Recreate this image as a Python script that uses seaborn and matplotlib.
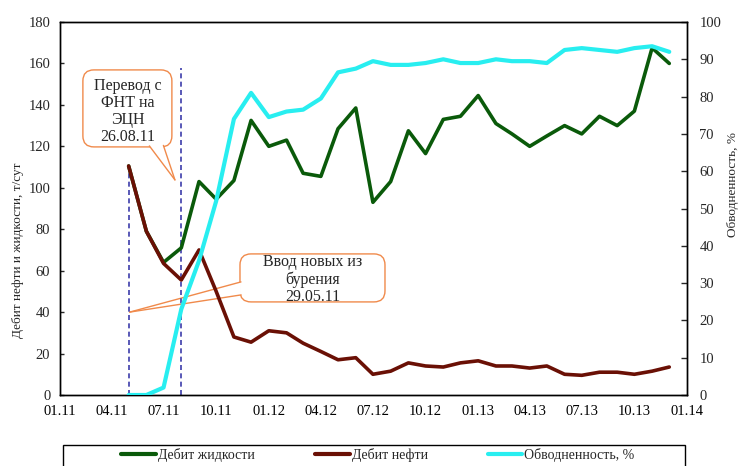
import numpy as np
import pandas as pd
import matplotlib
matplotlib.use("Agg")
import matplotlib.pyplot as plt
import matplotlib.dates as mdates
from matplotlib.patches import FancyBboxPatch, Polygon, Rectangle
from matplotlib.lines import Line2D
import seaborn as sns

# Monthly well data
months = ["05.11", "06.11", "07.11", "08.11", "09.11", "10.11", "11.11", "12.11",
          "01.12", "02.12", "03.12", "04.12", "05.12", "06.12", "07.12", "08.12",
          "09.12", "10.12", "11.12", "12.12", "01.13", "02.13", "03.13", "04.13",
          "05.13", "06.13", "07.13", "08.13", "09.13", "10.13", "11.13", "12.13"]
liquid_rate = [110.5, 79, 64, 71, 103, 94.5, 103.5, 132.5,
               120, 123, 107, 105.5, 128.5, 138.5, 93, 103,
               127.5, 116.5, 133, 134.5, 144.5, 131, 126, 120,
               125, 130, 126, 134.5, 130, 137, 167.5, 160]
oil_rate = [110.5, 79, 63.5, 55.5, 70, 50, 28, 25.5,
            31, 30, 25, 21, 17, 18, 10, 11.5,
            15.5, 14, 13.5, 15.5, 16.5, 14, 14, 13,
            14, 10, 9.5, 11, 11, 10, 11.5, 13.5]
water_cut = [0, 0, 2, 23, 36, 52, 74, 81,
             74.5, 76, 76.5, 79.5, 86.5, 87.5, 89.5, 88.5,
             88.5, 89, 90, 89, 89, 90, 89.5, 89.5,
             89, 92.5, 93, 92.5, 92, 93, 93.5, 92]

labels = ["Дебит жидкости", "Дебит нефти", "Обводненность, %"]
colors = ["#0a5a0a", "#6a1005", "#28eef0"]

df = pd.DataFrame({
    "date": pd.to_datetime(months, format="%m.%y"),
    "liquid": liquid_rate,
    "oil": oil_rate,
    "wcut": water_cut,
})

sns.set_style("white")
plt.rcParams["font.family"] = ["Liberation Serif", "DejaVu Serif"]
plt.rcParams["font.size"] = 10.5

fig = plt.figure(figsize=(7.4, 4.66), dpi=100)
ax = fig.add_axes([60 / 740, 71 / 466, 627 / 740, 373 / 466])
ax2 = ax.twinx()

sns.lineplot(data=df, x="date", y="liquid", ax=ax, color=colors[0], lw=2.6, zorder=3)
sns.lineplot(data=df, x="date", y="oil", ax=ax, color=colors[1], lw=2.6, zorder=4)
sns.lineplot(data=df, x="date", y="wcut", ax=ax2, color=colors[2], lw=3.0, zorder=3)

start = pd.Timestamp("2011-01-01")
ax.set_xlim(start, pd.Timestamp("2014-01-01"))
ax.set_ylim(0, 180)
ax2.set_ylim(0, 100)
ax.set_yticks(np.arange(0, 181, 20))
ax2.set_yticks(np.arange(0, 101, 10))

ax.xaxis.set_major_locator(mdates.MonthLocator(bymonth=[1, 4, 7, 10]))
ax.xaxis.set_major_formatter(mdates.DateFormatter("%m.%y"))
ax.xaxis.set_minor_locator(mdates.MonthLocator())

for a in (ax, ax2):
    a.set_xlabel("")
    a.set_ylabel("")
    for s in a.spines.values():
        s.set_visible(True)
        s.set_color("black")
        s.set_linewidth(1.0)

ax.tick_params(axis="x", which="major", direction="inout", length=6, width=1,
               pad=4, labelsize=10.5, colors="black")
ax.tick_params(axis="x", which="minor", direction="in", length=3, width=1, colors="black")
ax.tick_params(axis="y", direction="in", length=3, width=1, pad=7, labelsize=10.5)
ax2.tick_params(axis="y", direction="in", length=4, width=1, pad=9, labelsize=10.5)

# Event markers: new well from drilling, and pump change
x0 = mdates.date2num(start)


def mpos(m):
    return x0 + m * 365.25 / 12


ax.plot([mdates.date2num(pd.Timestamp("2011-05-01"))] * 2, [0, 111],
        ls=(0, (3, 2)), color="#3c3caa", lw=1.2, zorder=2)
ax.plot([mdates.date2num(pd.Timestamp("2011-08-01"))] * 2, [0, 158],
        ls=(0, (3, 2)), color="#3c3caa", lw=1.2, zorder=2)

# Callouts drawn in inch space so that their rounding stays circular
inv = fig.dpi_scale_trans.inverted()
orange = "#f08a4b"


def to_in(xd, yd):
    return inv.transform(ax.transData.transform((xd, yd)))


def callout(text, center, w, h, base, tip, dy_text=0.0):
    cx, cy = to_in(*center)
    tx, ty = to_in(*tip)
    box = FancyBboxPatch((cx - w / 2, cy - h / 2), w, h,
                         boxstyle="round,pad=0,rounding_size=0.11",
                         transform=fig.dpi_scale_trans, fc="white", ec=orange,
                         lw=1.0, zorder=1.5)
    ax.add_patch(box)
    (b1x, b1y), (b2x, b2y) = [(cx + bx, cy + by) for bx, by in base]
    fill = Polygon([(b1x, b1y), (b2x, b2y), (tx, ty)], closed=True,
                   transform=fig.dpi_scale_trans, fc="white", ec="none", zorder=1.6)
    ax.add_patch(fill)
    for bx_, by_ in ((b1x, b1y), (b2x, b2y)):
        ax.add_line(Line2D([bx_, tx], [by_, ty], transform=fig.dpi_scale_trans,
                           color=orange, lw=1.0, zorder=1.7))
    ax.text(cx, cy + dy_text, text, transform=fig.dpi_scale_trans, ha="center",
            va="center", fontsize=11.5, linespacing=1.1, zorder=1.8)


callout("Перевод с\nФНТ на\nЭЦН\n26.08.11",
        center=(mpos(3.87), 138.3), w=0.89, h=0.77,
        base=[(0.22, -0.375), (0.36, -0.37)],
        tip=(mpos(6.6), 103.8), dy_text=-0.03)
callout("Ввод новых из\nбурения\n29.05.11",
        center=(mpos(14.5), 56.5), w=1.45, h=0.48,
        base=[(-0.715, -0.04), (-0.715, -0.17)],
        tip=(mpos(4.0), 40), dy_text=-0.02)

# Axis titles
fig.text(18 / 740, 1 - 250 / 466, "Дебит нефти и жидкости, т/сут", rotation=90,
         ha="center", va="center", fontsize=9.5)
fig.text(733 / 740, 1 - 185 / 466, "Обводненность, %", rotation=90,
         ha="center", va="center", fontsize=9.5)

# Legend below the plot
handles = [Line2D([], [], color=c, lw=3) for c in colors]
fig.legend(handles, labels, loc="upper center", ncol=3, frameon=False,
           bbox_to_anchor=(378 / 740, 1 - 448 / 466), fontsize=10,
           handlelength=2.5, handletextpad=0.15, columnspacing=4.3,
           borderaxespad=0, borderpad=0)
fig.add_artist(Rectangle((63 / 740, -0.02), 622 / 740, 0.02 + 21 / 466,
                         transform=fig.transFigure, fill=False, ec="black", lw=1.0))

fig.savefig("out.png", dpi=100)
